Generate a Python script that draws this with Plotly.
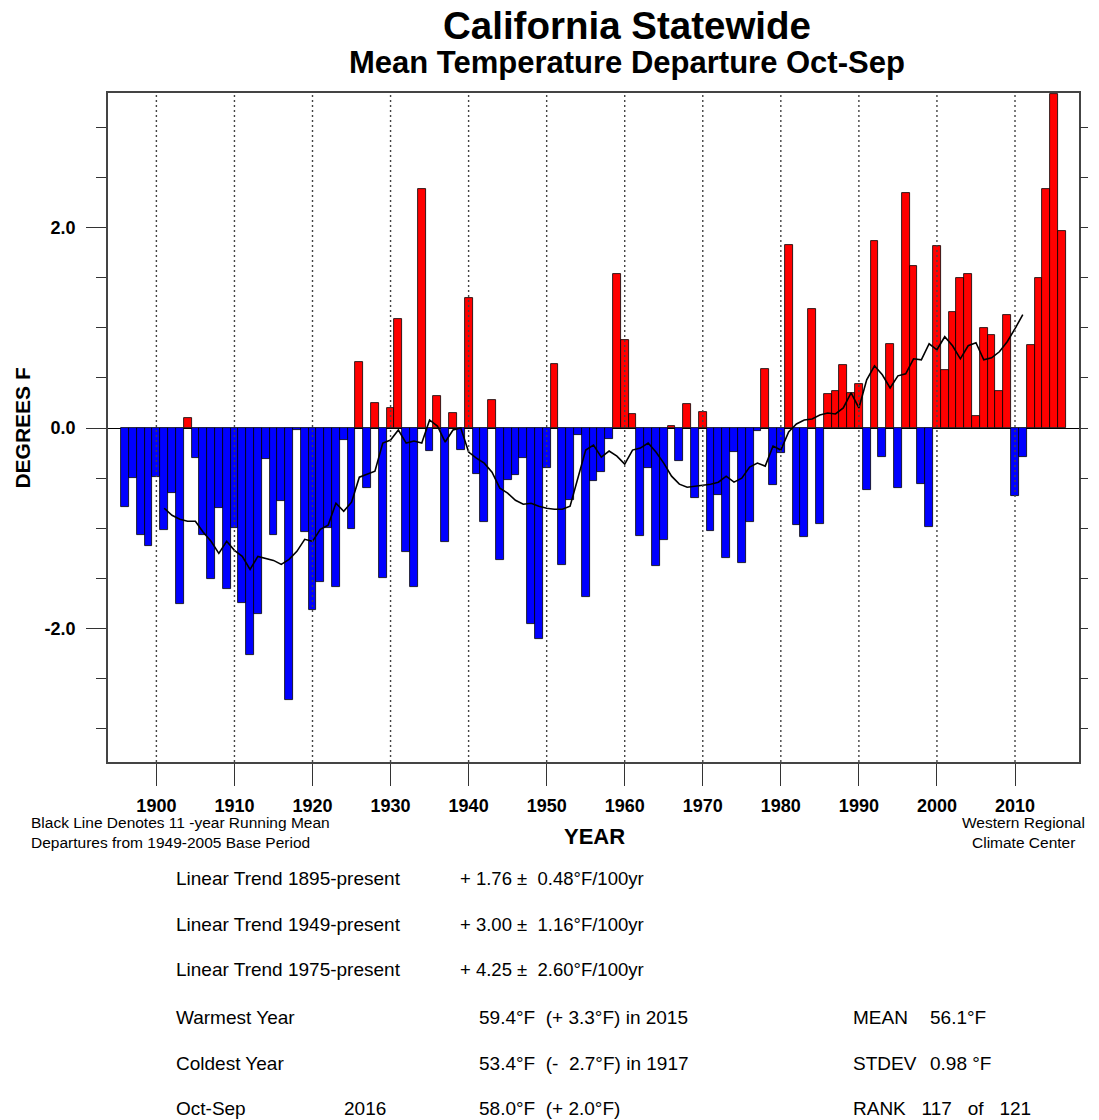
import plotly.graph_objects as go

# ---------------- data ----------------
years = list(range(1896, 2017))
departures = [
    -0.79, -0.50, -1.07, -1.18,                                              # 1896-1899
    -0.49, -1.02, -0.65, -1.75, 0.10, -0.30, -1.07, -1.51, -0.80, -1.61,     # 1900s
    -1.00, -1.74, -2.26, -1.85, -0.31, -1.07, -0.73, -2.71, -0.02, -1.04,     # 1910s
    -1.81, -1.54, -1.00, -1.59, -0.12, -1.01, 0.66, -0.60, 0.25, -1.50,      # 1920s
    0.20, 1.09, -1.24, -1.59, 2.38, -0.23, 0.32, -1.14, 0.15, -0.22,          # 1930s
    1.30, -0.46, -0.94, 0.28, -1.32, -0.52, -0.47, -0.30, -1.95, -2.10,       # 1940s
    -0.40, 0.64, -1.37, -0.72, -0.07, -1.68, -0.53, -0.44, -0.11, 1.54,       # 1950s
    0.88, 0.14, -1.08, -0.40, -1.38, -1.12, 0.02, -0.33, 0.24, -0.70,         # 1960s
    0.16, -1.03, -0.67, -1.30, -0.24, -1.35, -0.94, -0.03, 0.59, -0.57,       # 1970s
    -0.25, 1.82, -0.97, -1.09, 1.19, -0.96, 0.34, 0.37, 0.63, 0.35,           # 1980s
    0.44, -0.62, 1.86, -0.29, 0.84, -0.60, 2.34, 1.62, -0.56, -0.99,          # 1990s
    1.81, 0.58, 1.16, 1.50, 1.54, 0.12, 1.00, 0.93, 0.37, 1.13,               # 2000s
    -0.68, -0.29, 0.83, 1.50, 2.38, 3.33, 1.96,                               # 2010s
]

mean_years = list(range(1901, 2012))
running_mean = [
    -0.80, -0.87, -0.91, -0.93, -0.93, -1.04, -1.13, -1.25, -1.13,           # 1901-1909
    -1.22, -1.28, -1.41, -1.28, -1.30, -1.32, -1.36, -1.31, -1.23, -1.11,     # 1910s
    -1.13, -1.01, -0.97, -0.75, -0.83, -0.74, -0.49, -0.46, -0.43, -0.15,     # 1920s
    -0.12, -0.02, -0.15, -0.13, -0.15, 0.08, 0.02, -0.14, -0.02, 0.00,        # 1930s
    -0.24, -0.30, -0.35, -0.44, -0.60, -0.65, -0.72, -0.76, -0.75, -0.78,     # 1940s
    -0.80, -0.81, -0.81, -0.78, -0.50, -0.22, -0.17, -0.29, -0.23, -0.28,     # 1950s
    -0.36, -0.22, -0.20, -0.15, -0.24, -0.35, -0.48, -0.56, -0.59, -0.58,     # 1960s
    -0.57, -0.56, -0.54, -0.48, -0.54, -0.50, -0.39, -0.35, -0.38, -0.18,     # 1970s
    -0.22, -0.04, 0.04, 0.08, 0.09, 0.13, 0.15, 0.14, 0.20, 0.35,             # 1980s
    0.20, 0.48, 0.62, 0.53, 0.40, 0.52, 0.54, 0.69, 0.68, 0.84,               # 1990s
    0.78, 0.91, 0.82, 0.69, 0.82, 0.85, 0.68, 0.70, 0.76, 0.86,               # 2000s
    0.99, 1.13,                                                               # 2010-2011
]

decade_ticks = list(range(1900, 2011, 10))
y_major_ticks = [-2.0, 0.0, 2.0]
y_tick_text = ["-2.0", "0.0", "2.0"]

stat_labels = ["Linear Trend 1895-present", "Linear Trend 1949-present",
               "Linear Trend 1975-present", "Warmest Year", "Coldest Year", "Oct-Sep"]
trend_values = ["+ 1.76 \u00b1\u00a0 0.48\u00b0F/100yr",
                "+ 3.00 \u00b1\u00a0 1.16\u00b0F/100yr",
                "+ 4.25 \u00b1\u00a0 2.60\u00b0F/100yr"]
record_values = ["59.4\u00b0F\u00a0 (+ 3.3\u00b0F) in 2015",
                 "53.4\u00b0F\u00a0 (- \u00a02.7\u00b0F) in 1917",
                 "58.0\u00b0F\u00a0 (+ 2.0\u00b0F)"]
right_labels = ["MEAN", "STDEV", "RANK\u00a0\u00a0 117\u00a0\u00a0 of\u00a0\u00a0 121"]
right_values = ["56.1\u00b0F", "0.98\u00a0\u00b0F", ""]
current_year_label = "2016"

# ---------------- layout helpers ----------------
W, H = 1099, 1120
L, R, T, B = 108, 1086, 93, 762
FONT = "Liberation Sans, Arial, Helvetica, sans-serif"


def px(x):
    return (x - L) / (R - L)


def py(y):
    return (B - y) / (B - T)


colors = ["#FF0000" if v > 0 else "#0000FF" for v in departures]

fig = go.Figure()
fig.add_trace(go.Bar(
    x=years, y=departures, width=1.0,
    marker=dict(color=colors, line=dict(color="black", width=0.8)),
    showlegend=False, hoverinfo="x+y",
))
fig.add_trace(go.Scatter(
    x=mean_years, y=running_mean, mode="lines",
    line=dict(color="black", width=1.6), showlegend=False,
))
# invisible trace to activate the right-hand tick axis
fig.add_trace(go.Scatter(x=[years[0]], y=[0], yaxis="y2", mode="markers",
                         marker=dict(opacity=0), showlegend=False, hoverinfo="skip"))

shapes = []
for d in decade_ticks:
    shapes.append(dict(type="line", xref="x", yref="paper", x0=d, x1=d, y0=0, y1=1,
                       line=dict(color="#444444", width=1.4, dash="2px,3px"), layer="above"))

annotations = []


def add_text(text, x, y, size, bold=False, xanchor="left", yanchor="middle", angle=0, color="black"):
    annotations.append(dict(
        text=text, xref="paper", yref="paper",
        x=px(x), y=py(y), xanchor=xanchor, yanchor=yanchor, showarrow=False,
        textangle=angle,
        font=dict(family=FONT, size=size, color=color, weight="bold" if bold else "normal"),
    ))


add_text("California Statewide", 631, 25, 38.5, bold=True, xanchor="center")
add_text("Mean Temperature Departure Oct-Sep", 631, 62, 31, bold=True, xanchor="center")
add_text("DEGREES F", 21, 428, 21, bold=True, xanchor="center", angle=-90)
add_text("YEAR", 598, 836, 22, bold=True, xanchor="center")
add_text("Black Line Denotes 11 -year Running Mean", 28, 823, 15.5)
add_text("Departures from 1949-2005 Base Period", 28, 842, 15.5)
add_text("Western Regional", 1030, 823, 15.5, xanchor="center")
add_text("Climate Center", 1030, 842, 15.5, xanchor="center")

row_y = [878, 924, 970, 1017, 1063, 1108]
for i, lab in enumerate(stat_labels):
    add_text(lab, 174, row_y[i], 19)
for i, val in enumerate(trend_values):
    add_text(val, 461, row_y[i], 18.5)
for i, val in enumerate(record_values):
    add_text(val, 480, row_y[3 + i], 19)
add_text(current_year_label, 344, row_y[5], 19)
for i, (lab, val) in enumerate(zip(right_labels, right_values)):
    add_text(lab, 856, row_y[3 + i], 19)
    if val:
        add_text(val, 934, row_y[3 + i], 19)

tickfont = dict(family=FONT, size=18, color="black", weight="bold")

fig.update_layout(
    width=W, height=H,
    margin=dict(l=L, r=W - R, t=T, b=H - B, pad=0),
    paper_bgcolor="white", plot_bgcolor="white",
    bargap=0, shapes=shapes, annotations=annotations,
    font=dict(family=FONT, color="black"),
    xaxis=dict(
        range=[1893.8, 2018.2], tickvals=decade_ticks, ticks="outside", ticklen=22,
        tickwidth=1.3, tickcolor="#333", showgrid=False, zeroline=False,
        showline=True, linecolor="#444", linewidth=1.6, mirror=True,
        tickfont=tickfont, ticklabelstandoff=5,
    ),
    yaxis=dict(
        range=[-3.33, 3.34], tickvals=y_major_ticks, ticktext=y_tick_text,
        ticks="outside", ticklen=20, tickwidth=1.3, tickcolor="#333",
        minor=dict(dtick=0.5, tick0=0, ticks="outside", ticklen=10, tickcolor="#333", tickwidth=1),
        showgrid=False, zeroline=True, zerolinecolor="black", zerolinewidth=1,
        showline=True, linecolor="#444", linewidth=1.6, mirror=True,
        tickfont=tickfont, ticklabelstandoff=7,
    ),
    yaxis2=dict(
        range=[-3.33, 3.34], overlaying="y", side="right", dtick=0.5, tick0=0,
        ticks="outside", ticklen=8, tickcolor="#333", tickwidth=1,
        showticklabels=False, showgrid=False, zeroline=False, showline=False,
    ),
)

fig.write_html(
    "out.html",
    config={"displayModeBar": False},
    post_script="document.body.style.margin='0';document.body.style.overflow='hidden';",
)
